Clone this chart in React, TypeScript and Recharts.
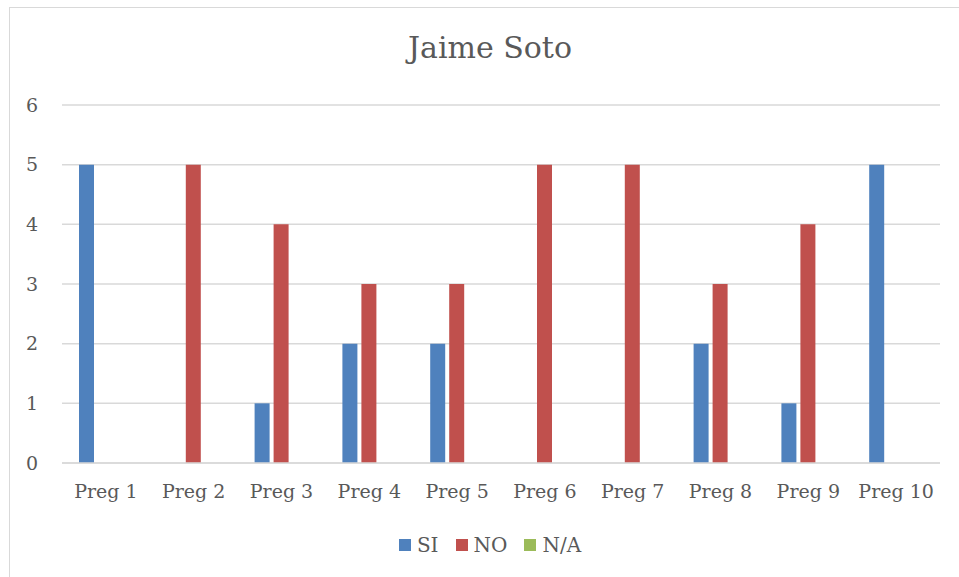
import { BarChart, Bar, XAxis, YAxis, CartesianGrid, Legend } from 'recharts'

const categories = ['Preg 1', 'Preg 2', 'Preg 3', 'Preg 4', 'Preg 5', 'Preg 6', 'Preg 7', 'Preg 8', 'Preg 9', 'Preg 10']
const si = [5, 0, 1, 2, 2, 0, 0, 2, 1, 5]
const no = [0, 5, 4, 3, 3, 5, 5, 3, 4, 0]
const na = [0, 0, 0, 0, 0, 0, 0, 0, 0, 0]
const yTicks = [0, 1, 2, 3, 4, 5, 6]

const series = [
  { key: 'SI', color: '#4F81BD' },
  { key: 'NO', color: '#C0504D' },
  { key: 'N/A', color: '#9BBB59' },
]

const FONT = "'DejaVu Serif', serif"
const TEXT = '#595959'

const chartData = categories.map((name, i) => ({
  name,
  SI: si[i],
  NO: no[i],
  'N/A': na[i],
}))

const LegendContent = () => (
  <div style={{
    display: 'flex', justifyContent: 'center', alignItems: 'center',
    height: 30, paddingLeft: 38, fontFamily: FONT, fontSize: 20, color: TEXT,
  }}>
    {series.map(s => (
      <div key={s.key} style={{ display: 'flex', alignItems: 'center', marginRight: 17 }}>
        <span style={{ width: 12, height: 12, background: s.color, marginRight: 6, display: 'inline-block' }} />
        <span>{s.key}</span>
      </div>
    ))}
  </div>
)

export default function App() {
  return (
    <div style={{ position: 'absolute', left: 0, top: 0, width: 959, height: 577, background: '#fff', overflow: 'hidden' }}>
      <div style={{
        position: 'absolute', left: 9, top: 7, width: 980, height: 600,
        border: '1px solid #d9d9d9', boxSizing: 'border-box',
      }} />
      <div style={{
        position: 'absolute', left: 0, top: 33, width: 980, textAlign: 'center',
        fontFamily: FONT, fontSize: 30, lineHeight: '30px', color: TEXT,
      }}>
        Jaime Soto
      </div>
      <div style={{ position: 'absolute', left: 0, top: 0 }}>
        <BarChart
          width={959}
          height={577}
          data={chartData}
          margin={{ top: 105, right: 19, left: 22, bottom: 17 }}
          barSize={15}
          barGap={4}
        >
          <CartesianGrid vertical={false} stroke="#d9d9d9" strokeWidth={1.5} />
          <XAxis
            dataKey="name"
            height={67}
            axisLine={{ stroke: '#d9d9d9', strokeWidth: 1.5 }}
            tickLine={false}
            tickMargin={16}
            tick={{ fill: TEXT, fontSize: 19, fontFamily: FONT }}
          />
          <YAxis
            width={40}
            domain={[0, 6]}
            ticks={yTicks}
            axisLine={false}
            tickLine={false}
            tickMargin={18}
            tick={{ fill: TEXT, fontSize: 19, fontFamily: FONT }}
          />
          <Legend verticalAlign="bottom" wrapperStyle={{ left: 0, width: 959 }} content={<LegendContent />} />
          {series.map(s => (
            <Bar key={s.key} dataKey={s.key} fill={s.color} isAnimationActive={false} />
          ))}
        </BarChart>
      </div>
    </div>
  )
}
